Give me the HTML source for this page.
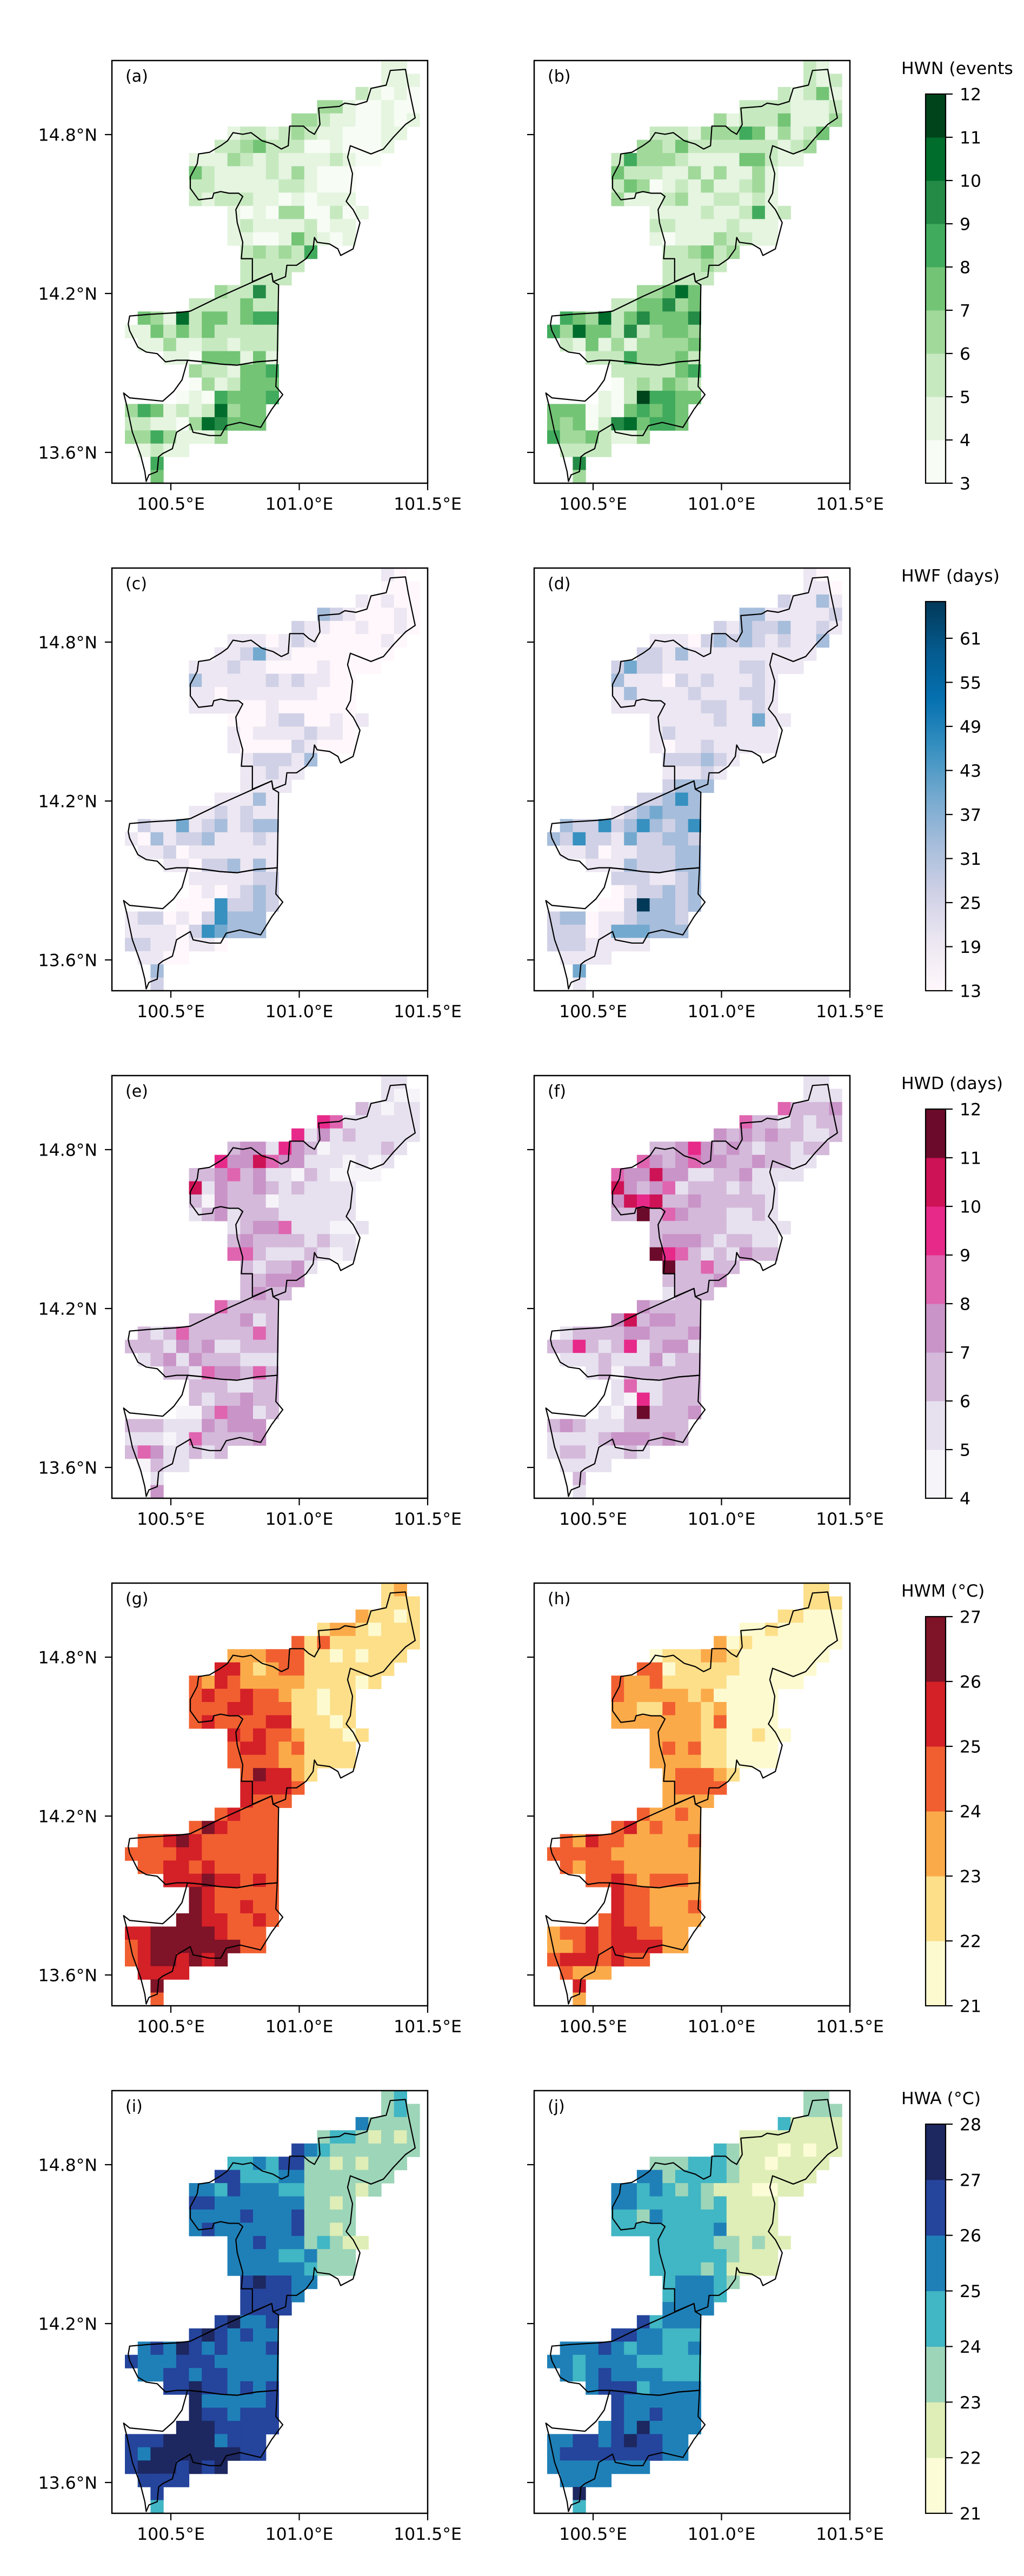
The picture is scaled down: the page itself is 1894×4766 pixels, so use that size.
<!DOCTYPE html>
<html><head><meta charset="utf-8"><title>Heatwave indices maps</title>
<style>
html,body{margin:0;padding:0;background:#fff;}
svg{display:block;}
text{font-family:"DejaVu Sans","Liberation Sans",sans-serif;fill:#000;}
</style></head>
<body>
<svg id="fig" xmlns="http://www.w3.org/2000/svg" width="1894" height="4766" viewBox="0 0 1894 4766">
<rect x="0" y="0" width="1894" height="4766" fill="#fff"/>
</svg>
<script>
// ---- Data: per-row "startColumn:levelDigits" (32 rows x 23 cols grid, 0.05 deg) ----
const hwnBaseline = ["20:11","20:111","18:21010","15:33100100","13:3321100101","8:12212321100011","7:22342220010001","5:111321211112100","5:4211112131000","5:2211111221000","5:2122211010111","8:10103300201","8:1211112011","8:1100142101","9:232325","9:22222","9:2222","7:32262","5:2222422","1:43172442455","0:114242422222","1:11311221222","3:110444141","5:3221445","5:0312444","4:01054445","0:35412127344","0:22110376444","0:33531113","1:1211","2:5","2:4"];
const hwnFuture = ["20:21","20:212","18:21241","15:22221112","13:3122241113","8:22213335413124","7:33242222222123","5:253332111144211","5:4222113131131","5:2430121311231","5:3111231122121","8:11112112512","8:2211112111","8:1011132211","9:223423","9:22232","9:2222","7:33474","5:2244634","1:54372464446","0:537442623443","1:21413133334","3:222533342","5:2222245","5:0232432","4:10285544","0:44401045454","0:43402674554","0:53342113","1:2222","2:6","2:3"];
const hwfBaseline = ["20:10","20:000","18:10100","15:32100010","13:2110010010","8:11101210000010","7:11241100000000","5:111211000010000","5:3111112121100","5:1101111111000","5:1111001000000","8:00012200101","8:1011112110","8:1000021000","9:122213","9:11211","9:1111","7:11131","5:1121211","1:21141231233","0:103122311121","1:11201111111","3:110223131","5:1111122","5:0101232","4:00052232","0:12201025333","0:11110254333","0:22110110","1:1100","2:3","2:2"];
const hwfFuture = ["20:10","20:110","18:21131","15:33111112","13:2132231121","8:11102323212113","7:22131111111111","5:242211111122111","5:3111021211121","5:1311112111221","5:1111111221121","8:11111211411","8:1211111111","8:1011211111","9:222321","9:11121","9:2333","7:22353","5:1234333","1:32252353235","0:325221422332","1:11201122233","3:111322233","5:2221123","5:0122323","4:00283323","0:23301123332","0:22201444333","0:22211111","1:1111","2:4","2:1"];
const hwdBaseline = ["20:11","20:100","18:21011","15:54111111","13:5131211111","8:23315320111121","7:53364331110101","5:223423110210000","5:6132232121111","5:2032220111111","5:1231222111111","8:12334111001","8:2322221211","8:4421112101","9:212231","9:22333","9:2322","7:42222","5:2222312","1:21242222242","0:222132311222","1:12313222111","3:221433242","5:2221122","5:2122322","4:00243312","0:22211132333","0:11101422223","0:24311212","1:0211","2:1","2:3"];
const hwdFuture = ["20:11","20:111","18:42223","15:42212122","13:3232322112","8:22353232122122","7:43234332232211","5:433633112231111","5:6323412221211","5:3656223222221","5:2272432221121","8:22222211111","8:2333212211","8:7542121322","9:722422","9:22223","9:1222","7:32222","5:3623322","1:12222332223","0:225212512331","1:11121113122","3:120222222","5:1411222","5:1051222","4:10272223","0:23211122222","0:11112333232","0:12211121","1:1111","2:2","2:1"];
const hwmBaseline = ["20:12","20:111","18:21101","15:12210111","13:3131111111","8:22233311010111","7:44212331111111","5:324322222111101","5:3433433211011","5:3334433311011","5:3433334411101","8:43433211101","8:3443231111","8:3333221111","9:354421","9:44443","9:4333","7:34333","5:3543333","1:33454333333","0:333344333333","1:33443433333","3:444544343","5:5433333","5:5433433","4:55443343","0:44555554333","0:34555555533","0:34554545","1:4444","2:5","2:3"];
const hwmFuture = ["20:11","20:111","18:11000","15:00100000","13:2010000000","8:01112210000000","7:33011111000000","5:322311111000000","5:3222221200000","5:2211322120000","5:2222222130000","8:22221100100","8:2323110000","8:2222110000","9:233321","9:23333","9:2222","7:32232","5:3423222","1:32433222223","0:333332222222","1:32333222222","3:334323332","5:4332222","5:4332223","4:34332222","0:23343443322","0:22343444422","0:34443433","1:3222","2:4","2:2"];
const hwaBaseline = ["20:23","20:232","18:42222","15:23321212","13:5432222222","8:33435522121222","7:55333442222222","5:443544433222212","5:5544444442212","5:4444544452222","5:4544444452212","8:44544423211","8:4444334222","8:4444443222","9:565544","9:55554","9:5555","7:56445","5:5654544","1:45465454445","0:544455544444","1:44554554444","3:556554545","5:6444445","5:6554555","4:66655555","0:55566664555","0:54666666655","0:56665656","1:5555","2:5","2:3"];
const hwaFuture = ["20:22","20:222","18:31111","15:11111111","13:3211101011","8:22233321101111","7:44233332111111","5:443432321110011","5:4433333231111","5:3324333331111","5:3333333341111","8:33333221211","8:3333332111","8:3333231111","9:344432","9:34443","9:4444","7:53444","5:5544333","1:44454344334","0:443444433333","1:43454444333","3:455534444","5:5444444","5:5445444","4:45464444","0:44554565544","0:45555555544","0:44444444","1:4444","2:6","2:3"];

// colorbar tick labels
const hwnTicks = [3,4,5,6,7,8,9,10,11,12];
const hwfTicks = [13,19,25,31,37,43,49,55,61];
const hwfRange = [13,66];
const hwdTicks = [4,5,6,7,8,9,10,11,12];
const hwmTicks = [21,22,23,24,25,26,27];
const hwaTicks = [21,22,23,24,25,26,27,28];
const lonTicks = ["100.5°E","101.0°E","101.5°E"];
const lonTickVals = [100.5,101.0,101.5];
const latTicks = ["14.8°N","14.2°N","13.6°N"];
const latTickVals = [14.8,14.2,13.6];

// palettes
const greens = ["#f7fcf5","#e5f5e0","#c7e9c0","#a1d99b","#74c476","#41ab5d","#238b45","#006d2c","#00441b"];
const pubu = ["#fff7fb","#ece7f2","#d0d1e6","#a6bddb","#74a9cf","#3690c0","#0570b0","#045a8d","#023858"];
const purd = ["#f7f4f9","#e7e1ef","#d4b9da","#c994c7","#df65b0","#e7298a","#ce1256","#6b0a2a"];
const ylorrd = ["#fdfad0","#fddf8a","#fbaa4a","#f15f31","#d42027","#7f1327"];
const ylgnbu = ["#fcfcd6","#dfeeb6","#9dd5b9","#41b6c4","#1f80b8","#25449c","#1d2760"];

const NS = "http://www.w3.org/2000/svg";
const svg = document.getElementById("fig");
function el(tag, attrs, parent){
  const e = document.createElementNS(NS, tag);
  for (const k in attrs) e.setAttribute(k, attrs[k]);
  (parent||svg).appendChild(e);
  return e;
}

// geometry
const W = 584, H = 782, COLW = 23.7, ROWH = H/32, COL0 = 24;
const lefts = [207, 988];
const tops = [112, 1051, 1990, 2929, 3868];
function lonX(left, lon){ return left + 109 + (lon-100.5)*475; }
function latY(top, lat){ return top + 137 + (14.8-lat)*490; }

// province outlines in reference-pixel units (converted to panel coords)
const northProv = [[915,860],[985,835],[990,860],[1035,845],[1040,810],[1075,810],[1110,790],[1135,760],[1140,725],[1150,740],[1195,745],[1225,760],[1235,780],[1280,760],[1305,680],[1280,640],[1255,615],[1270,590],[1278,530],[1260,480],[1270,445],[1300,455],[1345,470],[1390,455],[1425,420],[1470,380],[1505,360],[1490,300],[1480,260],[1470,212],[1415,215],[1410,230],[1400,260],[1345,270],[1330,310],[1290,320],[1250,315],[1230,325],[1155,330],[1160,380],[1140,410],[1120,400],[1100,385],[1050,385],[1045,445],[1020,455],[990,440],[950,430],[910,405],[880,410],[845,405],[825,430],[800,445],[760,465],[720,470],[715,500],[690,540],[690,575],[720,610],[770,605],[775,590],[800,585],[830,590],[865,590],[880,600],[855,640],[860,680],[880,740],[875,790],[915,790]];
const midProv = [[470,965],[540,960],[640,955],[690,950],[800,905],[985,835],[990,860],[1010,870],[1005,1100],[930,1105],[860,1115],[800,1112],[740,1105],[680,1100],[640,1100],[600,1105],[570,1080],[530,1075],[500,1060],[470,1010],[465,990]];
const southProv = [[680,1100],[740,1105],[800,1112],[860,1115],[930,1105],[1005,1100],[1000,1180],[1025,1205],[985,1250],[945,1305],[870,1290],[820,1300],[800,1330],[760,1330],[700,1320],[690,1295],[660,1310],[640,1320],[625,1370],[590,1385],[575,1395],[570,1440],[540,1450],[530,1470],[525,1440],[510,1390],[480,1320],[460,1240],[448,1200],[470,1215],[590,1225],[630,1195],[660,1160]];

function outlinePath(pts, left, top){
  return "M" + pts.map(p => (left + p[0]/1.96 - 207).toFixed(1) + "," + (top + p[1]/1.6505 - 112).toFixed(1)).join("L") + "Z";
}

function drawPanel(left, top, rows, palette, letter, showLat, nm){
  const g = el("g", {});
  
  
  rows.forEach((row, r) => {
    const parts = row.split(":");
    const start = parseInt(parts[0], 10);
    const digits = parts[1];
    for (let i = 0; i < digits.length; i++){
      const c = start + i;
      const v = parseInt(digits[i], 10);
      const cell = el("rect", {x:(left+COL0+c*COLW).toFixed(2), y:(top+r*ROWH).toFixed(2), width:(COLW+0.6).toFixed(2), height:(ROWH+0.6).toFixed(2), fill:palette[Math.min(v, palette.length-1)]}, g);
      
      
    }
  });
  [northProv, midProv, southProv].forEach((p, i) => {
    const path = el("path", {d:outlinePath(p, left, top), fill:"none", stroke:"#000", "stroke-width":"2.2", "stroke-linejoin":"round"}, g);
    
    
  });
  const frame = el("rect", {x:left, y:top, width:W, height:H, fill:"none", stroke:"#000", "stroke-width":"2.5"}, g);
  
  
  const lab = el("text", {x:left+25, y:top+39, "font-size":"30"}, g);
  lab.textContent = "(" + letter + ")";
  
  
  latTickVals.forEach((lat, i) => {
    const y = latY(top, lat);
    const t = el("line", {x1:left-13, x2:left, y1:y, y2:y, stroke:"#000", "stroke-width":"2.2"}, g);
    
    
    if (showLat){
      const tl = el("text", {x:left-27, y:y+11.5, "font-size":"31.5", "text-anchor":"end"}, g);
      tl.textContent = latTicks[i];
      
      
    }
  });
  lonTickVals.forEach((lon, i) => {
    const x = lonX(left, lon);
    const t = el("line", {x1:x, x2:x, y1:top+H, y2:top+H+13, stroke:"#000", "stroke-width":"2.2"}, g);
    
    
    const tl = el("text", {x:x, y:top+H+49, "font-size":"31.5", "text-anchor":"middle"}, g);
    tl.textContent = lonTicks[i];
    
    
  });
}

const defs = el("defs", {});
function drawColorbar(top, title, ticks, palette, continuous, nm){
  const g = el("g", {});
  
  
  const x0 = 1712, w = 37, y0 = top + 62, y1 = top + H;
  const tt = el("text", {x:1667, y:top+25, "font-size":"31.5"}, g);
  tt.textContent = title;
  
  
  let vmin, vmax;
  if (continuous){
    vmin = hwfRange[0]; vmax = hwfRange[1];
    const grad = el("linearGradient", {id:"grad-"+nm, x1:"0", y1:"1", x2:"0", y2:"0"}, defs);
    palette.forEach((c, i) => el("stop", {offset:(i/(palette.length-1)).toFixed(3), "stop-color":c}, grad));
    const r = el("rect", {x:x0, y:y0, width:w, height:y1-y0, fill:"url(#grad-"+nm+")"}, g);
    
    
  } else {
    vmin = ticks[0]; vmax = ticks[ticks.length-1];
    for (let i = 0; i < ticks.length-1; i++){
      const ya = y1 - (ticks[i+1]-vmin)/(vmax-vmin)*(y1-y0);
      const yb = y1 - (ticks[i]-vmin)/(vmax-vmin)*(y1-y0);
      const r = el("rect", {x:x0, y:ya.toFixed(2), width:w, height:(yb-ya+0.5).toFixed(2), fill:palette[i]}, g);
      
      
    }
  }
  const fr = el("rect", {x:x0, y:y0, width:w, height:y1-y0, fill:"none", stroke:"#000", "stroke-width":"2.2"}, g);
  
  
  ticks.forEach(v => {
    const y = y1 - (v-vmin)/(vmax-vmin)*(y1-y0);
    const t = el("line", {x1:x0+w, x2:x0+w+13, y1:y, y2:y, stroke:"#000", "stroke-width":"2.2"}, g);
    
    
    const tl = el("text", {x:1775, y:y+11.5, "font-size":"31.5"}, g);
    tl.textContent = String(v);
    
    
  });
}

const panels = [
  [hwnBaseline, hwnFuture, greens, "a", "b", "HWN (events", hwnTicks, false, "hwn"],
  [hwfBaseline, hwfFuture, pubu, "c", "d", "HWF (days)", hwfTicks, true, "hwf"],
  [hwdBaseline, hwdFuture, purd, "e", "f", "HWD (days)", hwdTicks, false, "hwd"],
  [hwmBaseline, hwmFuture, ylorrd, "g", "h", "HWM (°C)", hwmTicks, false, "hwm"],
  [hwaBaseline, hwaFuture, ylgnbu, "i", "j", "HWA (°C)", hwaTicks, false, "hwa"]
];
panels.forEach((p, i) => {
  drawPanel(lefts[0], tops[i], p[0], p[2], p[3], true, p[8] + "-baseline");
  drawPanel(lefts[1], tops[i], p[1], p[2], p[4], false, p[8] + "-future");
  drawColorbar(tops[i], p[5], p[6], p[2], p[7], p[8]);
});
</script>
</body></html>
